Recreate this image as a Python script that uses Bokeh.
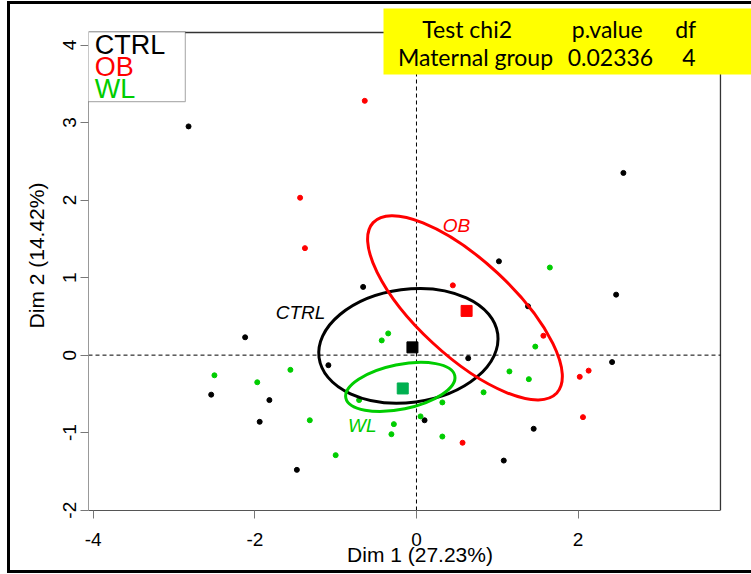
from bokeh.plotting import figure
from bokeh.models import Range1d, FixedTicker, BoxAnnotation, Label
from bokeh.embed import file_html
from bokeh.resources import INLINE

# ---------------- data ----------------
ctrl_x = [-2.82, 2.56, 1.02, -0.66, 2.47, 1.38, -2.12, 0.64, 2.42, -1.09, -2.54, -1.82, -1.94, 0.10, 1.45, 1.08, -1.48]
ctrl_y = [2.95, 2.35, 1.21, 0.88, 0.78, 0.63, 0.23, -0.04, -0.09, -0.13, -0.51, -0.58, -0.86, -0.84, -0.95, -1.36, -1.48]
ob_x = [-0.64, -1.44, -1.38, 0.45, 1.57, 2.13, 2.02, 2.06, 0.57]
ob_y = [3.28, 2.03, 1.38, 0.90, 0.25, -0.20, -0.28, -0.80, -1.13]
wl_x = [1.65, -0.35, -0.43, 1.47, -2.50, -1.56, -1.97, 1.15, 1.39, 0.83, 0.32, -0.71, 0.05, -1.32, -0.28, -0.31, 0.32, -1.00]
wl_y = [1.13, 0.28, 0.19, 0.11, -0.26, -0.19, -0.35, -0.21, -0.31, -0.48, -0.61, -0.58, -0.79, -0.84, -0.89, -1.02, -1.05, -1.29]

groups = ["CTRL", "OB", "WL"]
point_colors = ["#000000", "#FF0000", "#00CD00"]
centroid_colors = ["#000000", "#FF0000", "#00B050"]
centroid_x = [-0.05, 0.62, -0.17]
centroid_y = [0.10, 0.57, -0.43]

# confidence ellipses: centre, full width / height, rotation (radians)
ellipse_x = [-0.10, 0.60, -0.20]
ellipse_y = [0.12, 0.61, -0.41]
ellipse_w = [2.23, 3.10, 1.376]
ellipse_h = [1.46, 1.23, 0.575]
ellipse_angle = [0.131, -0.748, 0.201]

# italic group labels next to ellipses
grp_label_x = [-1.435, 0.495, -0.67]
grp_label_y = [0.55, 1.67, -0.91]

x_ticks = [-4, -2, 0, 2]
y_ticks = [-2, -1, 0, 1, 2, 3, 4]

test_header = ["Test chi2", "p.value", "df"]
test_row = ["Maternal group", "0.02336", "4"]

# plotting box (axis limits) of the original chart
X_MIN, X_MAX = -4.058, 3.761
Y_MIN, Y_MAX = -2.004, 4.161

# ---------------- figure ----------------
# the frame runs up to the top / right edge so that the yellow test table can overlap the box
p = figure(width=751, height=574, output_backend="svg", toolbar_location=None,
           x_range=Range1d(X_MIN, 4.145), y_range=Range1d(Y_MIN, 4.574),
           min_border_left=88, min_border_right=0, min_border_top=0, min_border_bottom=64)
# thick black picture frame (left, top, bottom) drawn as inset shadows behind a transparent canvas
p.styles = {"box-shadow": "inset 7px 0 0 0 white, inset 0 1px 0 0 white, inset 0 -1px 0 0 white, "
                          "inset 10px 0 0 0 black, inset 0 4px 0 0 black, inset 0 -4px 0 0 black"}
p.background_fill_alpha = 0
p.border_fill_alpha = 0
p.xgrid.visible = False
p.ygrid.visible = False
p.outline_line_color = None

FONT = "Liberation Sans"
for ax, ticks in ((p.xaxis, x_ticks), (p.yaxis, y_ticks)):
    ax.ticker = FixedTicker(ticks=ticks)
    ax.major_label_overrides = {t: str(t) for t in ticks}
    ax.minor_tick_line_color = None
    ax.major_tick_in = 0
    ax.major_tick_out = 8
    ax.major_tick_line_color = "#777777"
    ax.major_label_text_font = FONT
    ax.major_label_text_font_size = "19px"
    ax.major_label_text_color = "black"
    ax.axis_label_text_font = FONT
    ax.axis_label_text_font_size = "21px"
    ax.axis_label_text_font_style = "normal"
    ax.axis_label_text_color = "black"

p.xaxis.bounds = (X_MIN, X_MAX)
p.yaxis.bounds = (Y_MIN, Y_MAX)
p.xaxis.axis_line_color = "#555555"
p.yaxis.axis_line_color = "#999999"
p.xaxis.axis_label = "Dim 1 (27.23%)"
p.yaxis.axis_label = "Dim 2 (14.42%)"
p.yaxis.major_label_orientation = "vertical"
p.xaxis.major_label_standoff = 14
p.yaxis.major_label_standoff = 4
p.xaxis.axis_label_standoff = -6
p.yaxis.axis_label_standoff = 13

# top and right sides of the plotting box
p.segment(x0=[X_MIN, X_MAX], y0=[Y_MAX, Y_MIN], x1=[X_MAX, X_MAX], y1=[Y_MAX, Y_MAX],
          line_color="#333333", line_width=1.3)

# dashed origin lines
p.segment(x0=[X_MIN, 0], y0=[0, Y_MIN], x1=[X_MAX, 0], y1=[0, Y_MAX],
          line_color="black", line_width=1, line_dash="4 3")

# individuals
p.scatter(ctrl_x, ctrl_y, size=5, color=point_colors[0])
p.scatter(ob_x, ob_y, size=5, color=point_colors[1])
p.scatter(wl_x, wl_y, size=5, color=point_colors[2])

# ellipses
p.ellipse(x=ellipse_x, y=ellipse_y, width=ellipse_w, height=ellipse_h, angle=ellipse_angle,
          fill_color=None, line_color=point_colors, line_width=3)

# centroids
p.scatter(centroid_x, centroid_y, marker="square", size=11, color=centroid_colors)

# group labels
for g, gx, gy, c in zip(groups, grp_label_x, grp_label_y, point_colors):
    p.add_layout(Label(x=gx, y=gy, text=g, text_color=c, text_font=FONT, text_font_size="19px",
                       text_font_style="italic", text_align="center", text_baseline="middle"))

# legend box (text only, coloured)
p.add_layout(BoxAnnotation(left=-4.07, right=-2.86, top=4.17, bottom=3.27, fill_color="white",
                           fill_alpha=1, line_color="black", line_width=1.2))
for g, gy, c in zip(groups, [4.00, 3.72, 3.43], point_colors):
    p.add_layout(Label(x=-3.98, y=gy, text=g, text_color=c, text_font=FONT, text_font_size="27px",
                       text_align="left", text_baseline="middle"))

# chi2 test table
p.add_layout(BoxAnnotation(left=-0.408, right=4.3, top=4.4706, bottom=3.62, fill_color="#FFFF00",
                           fill_alpha=1, line_color=None))
for txt, tx in zip(test_header, [0.627, 2.36, 3.33]):
    p.add_layout(Label(x=tx, y=4.21, text=txt, text_font="Lato", text_font_size="23px",
                       text_color="black", text_align="center", text_baseline="middle"))
for txt, tx in zip(test_row, [0.73, 2.40, 3.37]):
    p.add_layout(Label(x=tx, y=3.84, text=txt, text_font="Lato", text_font_size="23px",
                       text_color="black", text_align="center", text_baseline="middle"))

open("out.html", "w").write(file_html(p, INLINE))
